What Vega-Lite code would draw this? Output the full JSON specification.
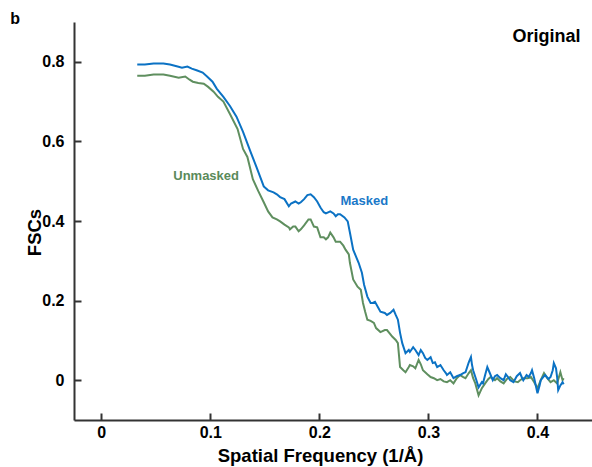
{
  "$schema": "https://vega.github.io/schema/vega-lite/v6.json",
  "autosize": {"type": "none"},
  "padding": {"left": 74, "top": 22, "right": 0, "bottom": 47},
  "width": 518,
  "height": 398,
  "background": "white",
  "config": {"view": {"stroke": null}},
  "datasets": {
    "masked": [
      {"f":0.033,"v":0.793},{"f":0.040,"v":0.793},{"f":0.048,"v":0.796},{"f":0.057,"v":0.796},{"f":0.063,"v":0.793},{"f":0.070,"v":0.788},{"f":0.074,"v":0.785},{"f":0.079,"v":0.788},{"f":0.083,"v":0.783},{"f":0.088,"v":0.778},{"f":0.093,"v":0.773},{"f":0.097,"v":0.763},{"f":0.102,"v":0.750},{"f":0.106,"v":0.732},{"f":0.112,"v":0.712},{"f":0.118,"v":0.689},{"f":0.124,"v":0.662},{"f":0.130,"v":0.624},{"f":0.137,"v":0.573},{"f":0.142,"v":0.538},{"f":0.149,"v":0.487},{"f":0.153,"v":0.477},{"f":0.158,"v":0.472},{"f":0.161,"v":0.467},{"f":0.164,"v":0.460},{"f":0.168,"v":0.455},{"f":0.172,"v":0.437},{"f":0.174,"v":0.444},{"f":0.178,"v":0.449},{"f":0.181,"v":0.444},{"f":0.183,"v":0.447},{"f":0.186,"v":0.455},{"f":0.189,"v":0.465},{"f":0.192,"v":0.467},{"f":0.195,"v":0.460},{"f":0.198,"v":0.449},{"f":0.201,"v":0.434},{"f":0.204,"v":0.422},{"f":0.206,"v":0.419},{"f":0.210,"v":0.424},{"f":0.213,"v":0.419},{"f":0.215,"v":0.412},{"f":0.217,"v":0.417},{"f":0.219,"v":0.417},{"f":0.223,"v":0.409},{"f":0.226,"v":0.399},{"f":0.228,"v":0.371},{"f":0.231,"v":0.328},{"f":0.234,"v":0.308},{"f":0.236,"v":0.295},{"f":0.239,"v":0.270},{"f":0.241,"v":0.240},{"f":0.244,"v":0.210},{"f":0.247,"v":0.194},{"f":0.249,"v":0.194},{"f":0.251,"v":0.197},{"f":0.254,"v":0.182},{"f":0.256,"v":0.172},{"f":0.260,"v":0.169},{"f":0.262,"v":0.164},{"f":0.265,"v":0.169},{"f":0.268,"v":0.177},{"f":0.270,"v":0.164},{"f":0.272,"v":0.152},{"f":0.274,"v":0.119},{"f":0.276,"v":0.093},{"f":0.279,"v":0.068},{"f":0.282,"v":0.076},{"f":0.283,"v":0.071},{"f":0.286,"v":0.083},{"f":0.288,"v":0.076},{"f":0.291,"v":0.063},{"f":0.293,"v":0.076},{"f":0.295,"v":0.068},{"f":0.297,"v":0.056},{"f":0.299,"v":0.051},{"f":0.302,"v":0.058},{"f":0.304,"v":0.043},{"f":0.306,"v":0.045},{"f":0.308,"v":0.033},{"f":0.311,"v":0.038},{"f":0.314,"v":0.025},{"f":0.316,"v":0.018},{"f":0.317,"v":0.013},{"f":0.320,"v":0.020},{"f":0.323,"v":0.005},{"f":0.326,"v":0.010},{"f":0.329,"v":0.013},{"f":0.332,"v":0.018},{"f":0.334,"v":0.020},{"f":0.337,"v":0.045},{"f":0.339,"v":0.058},{"f":0.340,"v":0.038},{"f":0.341,"v":0.025},{"f":0.344,"v":0.000},{"f":0.346,"v":-0.018},{"f":0.349,"v":-0.005},{"f":0.350,"v":-0.008},{"f":0.352,"v":0.013},{"f":0.354,"v":0.033},{"f":0.356,"v":0.020},{"f":0.359,"v":0.000},{"f":0.361,"v":0.010},{"f":0.363,"v":0.013},{"f":0.366,"v":0.005},{"f":0.369,"v":0.000},{"f":0.371,"v":0.015},{"f":0.373,"v":0.008},{"f":0.375,"v":0.000},{"f":0.378,"v":-0.005},{"f":0.381,"v":0.010},{"f":0.384,"v":0.018},{"f":0.386,"v":0.005},{"f":0.387,"v":0.000},{"f":0.390,"v":0.013},{"f":0.392,"v":0.008},{"f":0.394,"v":0.018},{"f":0.395,"v":0.025},{"f":0.397,"v":0.005},{"f":0.400,"v":-0.033},{"f":0.402,"v":-0.013},{"f":0.403,"v":0.000},{"f":0.406,"v":0.010},{"f":0.407,"v":0.013},{"f":0.410,"v":0.003},{"f":0.412,"v":0.008},{"f":0.414,"v":0.025},{"f":0.415,"v":0.043},{"f":0.417,"v":0.030},{"f":0.418,"v":0.008},{"f":0.419,"v":-0.025},{"f":0.421,"v":-0.013},{"f":0.423,"v":-0.005},{"f":0.424,"v":-0.010}
    ],
    "unmasked": [
      {"f":0.033,"v":0.765},{"f":0.040,"v":0.765},{"f":0.048,"v":0.768},{"f":0.057,"v":0.768},{"f":0.063,"v":0.765},{"f":0.071,"v":0.760},{"f":0.077,"v":0.763},{"f":0.081,"v":0.755},{"f":0.084,"v":0.750},{"f":0.089,"v":0.747},{"f":0.094,"v":0.745},{"f":0.098,"v":0.737},{"f":0.103,"v":0.725},{"f":0.107,"v":0.712},{"f":0.112,"v":0.700},{"f":0.118,"v":0.669},{"f":0.125,"v":0.631},{"f":0.130,"v":0.581},{"f":0.134,"v":0.561},{"f":0.139,"v":0.505},{"f":0.144,"v":0.475},{"f":0.149,"v":0.447},{"f":0.153,"v":0.424},{"f":0.157,"v":0.409},{"f":0.161,"v":0.404},{"f":0.164,"v":0.399},{"f":0.168,"v":0.391},{"f":0.172,"v":0.384},{"f":0.173,"v":0.379},{"f":0.176,"v":0.386},{"f":0.178,"v":0.386},{"f":0.181,"v":0.374},{"f":0.183,"v":0.379},{"f":0.186,"v":0.389},{"f":0.190,"v":0.404},{"f":0.192,"v":0.404},{"f":0.195,"v":0.386},{"f":0.198,"v":0.384},{"f":0.201,"v":0.359},{"f":0.204,"v":0.359},{"f":0.206,"v":0.354},{"f":0.208,"v":0.359},{"f":0.210,"v":0.371},{"f":0.213,"v":0.359},{"f":0.215,"v":0.348},{"f":0.219,"v":0.348},{"f":0.222,"v":0.338},{"f":0.224,"v":0.328},{"f":0.227,"v":0.316},{"f":0.228,"v":0.295},{"f":0.231,"v":0.253},{"f":0.235,"v":0.235},{"f":0.238,"v":0.227},{"f":0.240,"v":0.194},{"f":0.242,"v":0.172},{"f":0.244,"v":0.152},{"f":0.247,"v":0.149},{"f":0.250,"v":0.144},{"f":0.252,"v":0.131},{"f":0.256,"v":0.121},{"f":0.260,"v":0.126},{"f":0.262,"v":0.126},{"f":0.265,"v":0.116},{"f":0.267,"v":0.109},{"f":0.270,"v":0.101},{"f":0.272,"v":0.093},{"f":0.273,"v":0.063},{"f":0.274,"v":0.033},{"f":0.277,"v":0.025},{"f":0.279,"v":0.020},{"f":0.282,"v":0.033},{"f":0.283,"v":0.038},{"f":0.286,"v":0.035},{"f":0.288,"v":0.030},{"f":0.291,"v":0.051},{"f":0.293,"v":0.040},{"f":0.295,"v":0.025},{"f":0.299,"v":0.015},{"f":0.302,"v":0.008},{"f":0.305,"v":0.005},{"f":0.308,"v":0.000},{"f":0.311,"v":0.003},{"f":0.314,"v":-0.003},{"f":0.317,"v":-0.005},{"f":0.320,"v":0.000},{"f":0.323,"v":-0.008},{"f":0.326,"v":0.005},{"f":0.329,"v":0.013},{"f":0.332,"v":0.008},{"f":0.334,"v":0.005},{"f":0.337,"v":0.018},{"f":0.339,"v":0.025},{"f":0.341,"v":0.005},{"f":0.343,"v":-0.008},{"f":0.346,"v":-0.038},{"f":0.349,"v":-0.020},{"f":0.352,"v":-0.008},{"f":0.355,"v":0.003},{"f":0.357,"v":0.008},{"f":0.361,"v":0.000},{"f":0.363,"v":0.005},{"f":0.366,"v":-0.003},{"f":0.369,"v":-0.008},{"f":0.372,"v":0.003},{"f":0.375,"v":0.008},{"f":0.379,"v":-0.003},{"f":0.382,"v":-0.005},{"f":0.384,"v":0.000},{"f":0.387,"v":0.005},{"f":0.391,"v":0.005},{"f":0.394,"v":0.008},{"f":0.397,"v":-0.005},{"f":0.400,"v":-0.020},{"f":0.403,"v":0.000},{"f":0.406,"v":0.018},{"f":0.409,"v":0.005},{"f":0.412,"v":-0.005},{"f":0.415,"v":0.000},{"f":0.418,"v":-0.008},{"f":0.421,"v":0.020},{"f":0.423,"v":0.000},{"f":0.424,"v":0.005}
    ],
    "labels": [
      {"f":0.066,"v":0.5025,"t":"Unmasked","c":"unmasked"},
      {"f":0.2193,"v":0.439,"t":"Masked","c":"masked"}
    ],
    "corner": [{"f":0.4394,"v":0.851,"t":"Original"}],
    "panel": [{"f":-0.0835,"v":0.896,"t":"b"}]
  },
  "encoding": {
    "x": {"field": "f", "type": "quantitative",
      "scale": {"domain": [-0.025, 0.45], "nice": false, "zero": false},
      "axis": {"values": [0, 0.1, 0.2, 0.3, 0.4], "format": ".1~f", "title": "Spatial Frequency (1/Å)",
        "grid": false, "domainColor": "#333333", "domainWidth": 2, "tickColor": "#333333", "tickWidth": 2, "tickSize": -7,
        "labelFont": "Liberation Sans", "labelFontSize": 16, "labelFontWeight": "bold", "labelColor": "black", "labelPadding": 11, "labelBaseline": "top",
        "titleFont": "Liberation Sans", "titleFontSize": 18.5, "titleFontWeight": "bold", "titleColor": "black",
        "titleX": 246, "titleY": 41, "titleBaseline": "alphabetic", "titleAnchor": null, "titleAlign": "center"}},
    "y": {"field": "v", "type": "quantitative",
      "scale": {"domain": [-0.1, 0.9], "nice": false, "zero": false},
      "axis": {"values": [0, 0.2, 0.4, 0.6, 0.8], "format": ".1~f", "title": "FSCs",
        "grid": false, "domainColor": "#333333", "domainWidth": 2, "tickColor": "#333333", "tickWidth": 2, "tickSize": -7,
        "labelFont": "Liberation Sans", "labelFontSize": 16, "labelFontWeight": "bold", "labelColor": "black", "labelPadding": 17,
        "titleFont": "Liberation Sans", "titleFontSize": 18.5, "titleFontWeight": "bold", "titleColor": "black",
        "titleX": -34, "titleY": 210, "titleAngle": -90, "titleBaseline": "alphabetic", "titleAlign": "center"}}
  },
  "layer": [
    {"data": {"name": "unmasked"}, "mark": {"type": "line", "color": "#5f8f5f", "strokeWidth": 2}},
    {"data": {"name": "masked"}, "mark": {"type": "line", "color": "#0b72c4", "strokeWidth": 2}},
    {"data": {"name": "labels"},
      "mark": {"type": "text", "align": "left", "baseline": "alphabetic", "font": "Liberation Sans", "fontSize": 13, "fontWeight": "bold"},
      "encoding": {"text": {"field": "t"},
        "color": {"field": "c", "type": "nominal", "scale": {"domain": ["unmasked", "masked"], "range": ["#5a8a5a", "#1a78c8"]}, "legend": null}}},
    {"data": {"name": "corner"},
      "mark": {"type": "text", "align": "right", "baseline": "alphabetic", "font": "Liberation Sans", "fontSize": 18, "fontWeight": "bold", "color": "black"},
      "encoding": {"text": {"field": "t"}}},
    {"data": {"name": "panel"},
      "mark": {"type": "text", "align": "left", "baseline": "alphabetic", "font": "Liberation Sans", "fontSize": 16, "fontWeight": "bold", "color": "black"},
      "encoding": {"text": {"field": "t"}}}
  ]
}
